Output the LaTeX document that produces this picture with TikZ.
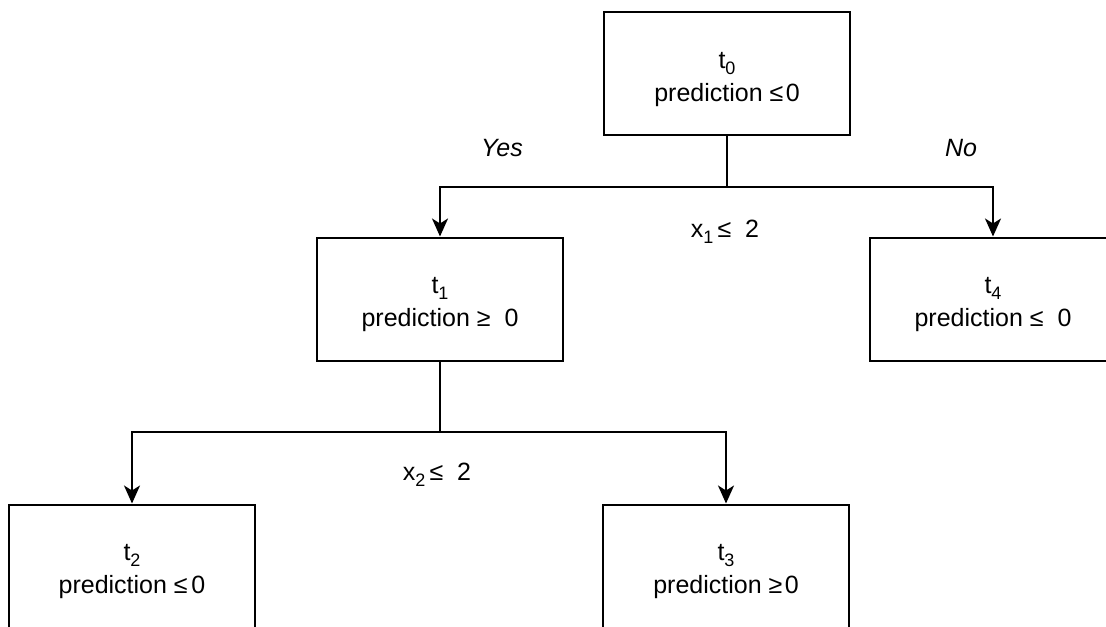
\documentclass[tikz,border=0pt]{standalone}
\usepackage{fontspec}
\setmainfont{Liberation Sans}
\usetikzlibrary{arrows.meta}
\newcommand{\sbs}[1]{\raisebox{-0.45ex}{\fontsize{9}{9}\selectfont #1}}
\begin{document}
\begin{tikzpicture}[x=0.5pt,y=-0.5pt,
  box/.style={draw=black,line width=1pt,fill=white,minimum width=123pt,minimum height=61.5pt,inner sep=0pt,align=center,font=\fontsize{12.5}{16.5}\selectfont},
  conn/.style={draw=black,line width=1pt},
  arr/.style={conn,-{Stealth[length=9pt,width=8pt,inset=2.5pt]}},
  lbl/.style={font=\fontsize{12.5}{14}\selectfont,inner sep=0pt},
  ilbl/.style={lbl,font=\fontsize{12.5}{14}\selectfont\itshape}]
\clip (0,0) rectangle (1106,626);
\fill[white] (0,0) rectangle (1106,626);
\node[box] (t0) at (727,73.5) {\rule{0pt}{14pt}t\sbs{0}\\prediction ≤\hspace{0.1em}0};
\node[box] (t1) at (440,299) {\rule{0pt}{14pt}t\sbs{1}\\prediction ≥\ \ 0};
\node[box] (t4) at (993,299) {\rule{0pt}{14pt}t\sbs{4}\\prediction ≤\ \ 0};
\node[box] (t2) at (132,566) {\rule{0pt}{14pt}t\sbs{2}\\prediction ≤\hspace{0.15em}0};
\node[box] (t3) at (726,566) {\rule{0pt}{14pt}t\sbs{3}\\prediction ≥\hspace{0.1em}0};
\coordinate (s0) at (727,187);
\coordinate (s1) at (440,432);
\draw[conn] (t0.south) -- (s0);
\draw[arr] (s0) -| (t1.north);
\draw[arr] (s0) -| (t4.north);
\draw[conn] (t1.south) -- (s1);
\draw[arr] (s1) -| (t2.north);
\draw[arr] (s1) -| (t3.north);
\node[ilbl] (yes) at (502,148) {Yes};
\node[ilbl] (no) at (961,148) {No};
\node[lbl] (c1) at (725,232) {x\sbs{1}\,≤\ \ 2};
\node[lbl] (c2) at (437,475) {x\sbs{2}\,≤\ \ 2};
\end{tikzpicture}
\end{document}
